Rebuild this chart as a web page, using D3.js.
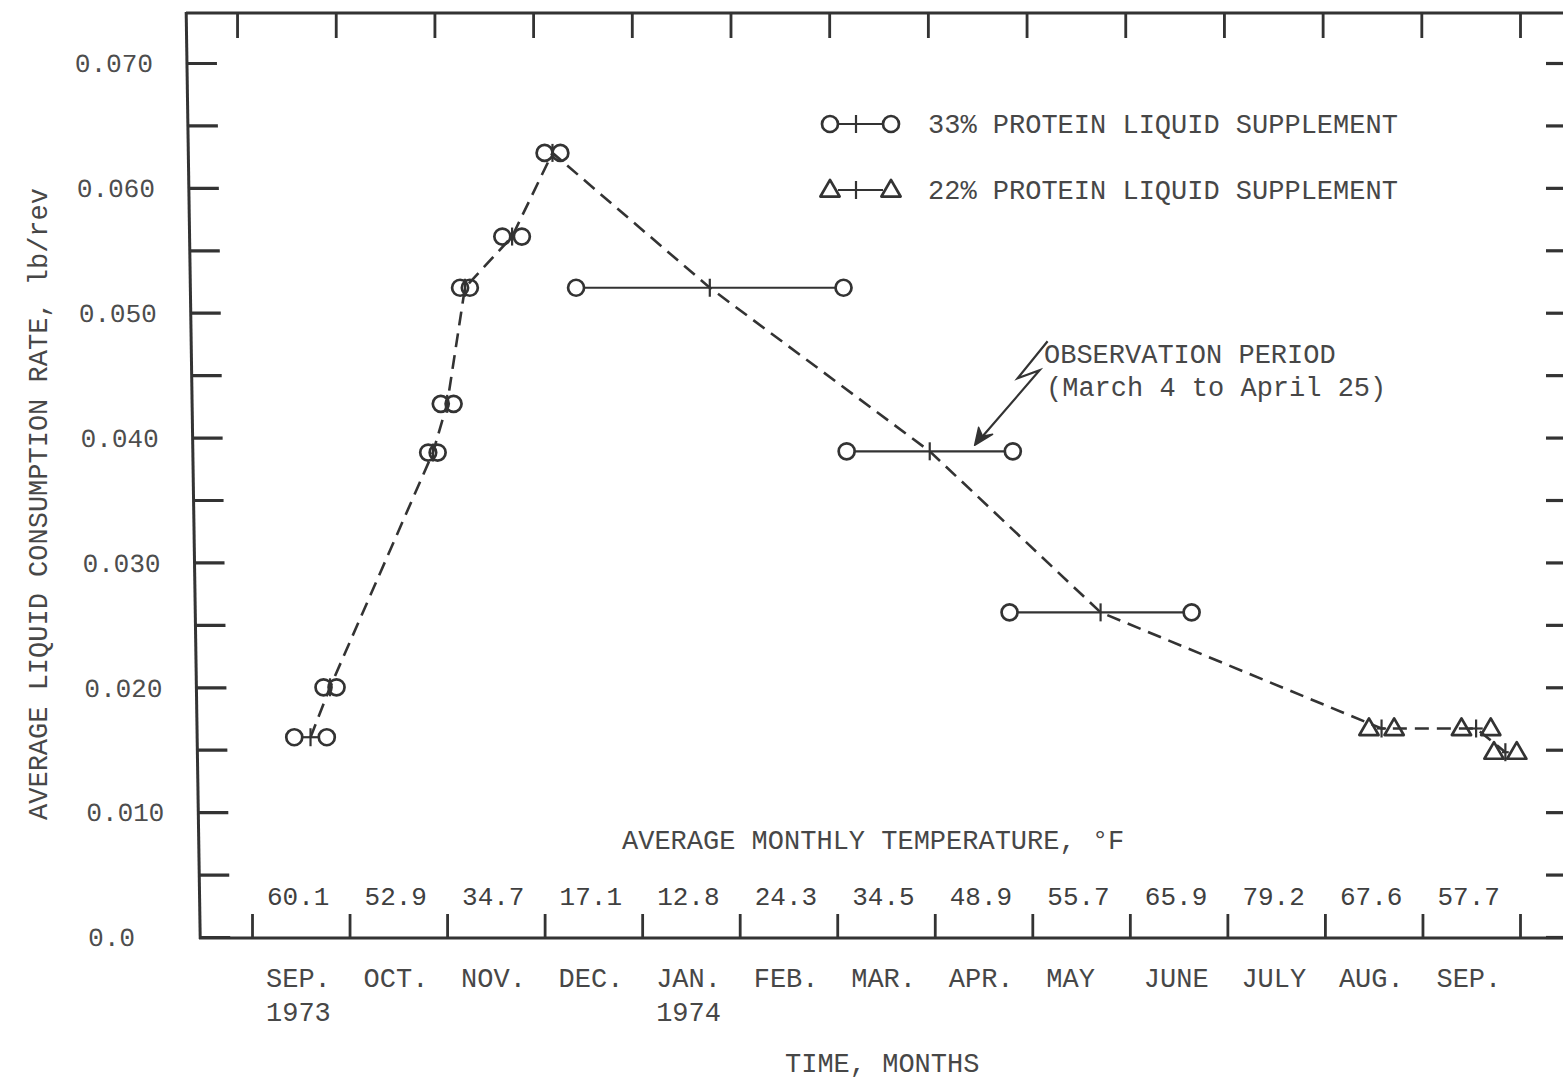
<!DOCTYPE html>
<html>
<head>
<meta charset="utf-8">
<script src="https://cdn.jsdelivr.net/npm/d3@7"></script>
<style>
  html, body { margin: 0; padding: 0; background: #fff; }
  svg { display: block; }
  text { font-family: "Liberation Mono", "DejaVu Sans Mono", monospace; fill: #474747; }
</style>
</head>
<body>
<svg id="chart" width="1563" height="1079"></svg>
<script>
// ---- data -------------------------------------------------------------
// Months along the time axis, Sep 1973 .. Sep 1974
const monthLabels = ["SEP.", "OCT.", "NOV.", "DEC.", "JAN.", "FEB.", "MAR.", "APR.", "MAY", "JUNE", "JULY", "AUG.", "SEP."];
const yearLabelMonths = [0, 4];
const yearLabels = ["1973", "1974"];
// Average monthly temperature, °F
const monthlyTemps = ["60.1", "52.9", "34.7", "17.1", "12.8", "24.3", "34.5", "48.9", "55.7", "65.9", "79.2", "67.6", "57.7"];

// Consumption-rate axis
const rateTicks = [0, 0.01, 0.02, 0.03, 0.04, 0.05, 0.06, 0.07];
const rateTickLabels = ["0.0", "0.010", "0.020", "0.030", "0.040", "0.050", "0.060", "0.070"];

// 33% protein liquid supplement: observation periods and average rate (lb/rev)
const supp33Start = ["1973-09-14", "1973-09-23", "1973-10-26", "1973-10-30", "1973-11-05", "1973-11-18", "1973-12-01", "1973-12-11", "1974-03-04", "1974-04-24"];
const supp33End   = ["1973-09-24", "1973-09-27", "1973-10-29", "1973-11-03", "1973-11-08", "1973-11-24", "1973-12-06", "1974-03-03", "1974-04-25", "1974-06-20"];
const supp33Rate  = [0.0160, 0.0200, 0.0388, 0.0427, 0.0520, 0.0561, 0.0628, 0.0520, 0.0389, 0.0260];

// 22% protein liquid supplement
const supp22Start = ["1974-08-15", "1974-09-13", "1974-09-23"];
const supp22End   = ["1974-08-23", "1974-09-22", "1974-09-30"];
const supp22Rate  = [0.0167, 0.0167, 0.0148];

// ---- setup ------------------------------------------------------------
const ink = "#333333";
const svg = d3.select("#chart");
const parse = d3.timeParse("%Y-%m-%d");

// Month index (Sep 1973 = 0) with fractional day position inside the month
function monthPos(s) {
  const d = parse(s);
  const m = (d.getFullYear() - 1973) * 12 + d.getMonth() - 8;
  const dim = new Date(d.getFullYear(), d.getMonth() + 1, 0).getDate();
  return m + (d.getDate() - 1) / dim;
}

const x = d3.scaleLinear().domain([0, 13]).range([252, 1520]);
const y = d3.scaleLinear().domain([0, 0.07]).range([937, 63]);
const monthBounds = d3.range(0, 14);
const minorTicks = d3.range(0.005, 0.07, 0.01);

// ---- frame and axes ---------------------------------------------------
const frame = svg.append("g").attr("stroke", ink).attr("stroke-width", 3).attr("fill", "none");
frame.append("line").attr("x1", 186).attr("y1", 13).attr("x2", 1570).attr("y2", 13);
frame.append("line").attr("x1", 199).attr("y1", 938).attr("x2", 1570).attr("y2", 938);

// left axis (slightly leaning frame edge)
const leftG = svg.append("g").attr("transform", "translate(186,0) skewX(0.867)");
leftG.append("line").attr("x1", 0).attr("y1", 12).attr("x2", 0).attr("y2", 939)
  .attr("stroke", ink).attr("stroke-width", 3);
const leftAxis = leftG.append("g")
  .call(d3.axisLeft(y).tickValues(rateTicks).tickSize(-30).tickSizeOuter(0)
    .tickFormat((d, i) => rateTickLabels[i]));
leftAxis.select(".domain").remove();
leftAxis.attr("font-family", null).attr("font-size", null).attr("color", ink);
leftAxis.selectAll("line").attr("stroke-width", 3.2);
leftAxis.selectAll("text")
  .attr("x", -112).attr("text-anchor", "start").attr("dy", "0.34em")
  .style("font-size", "26px").style("fill", "#4d4d4d");
const leftMinor = leftG.append("g")
  .call(d3.axisLeft(y).tickValues(minorTicks).tickSize(-30).tickSizeOuter(0).tickFormat(""));
leftMinor.select(".domain").remove();
leftMinor.attr("color", ink).selectAll("line").attr("stroke-width", 3.2);

// right axis ticks
const rightAxis = svg.append("g").attr("transform", "translate(1568,0)")
  .call(d3.axisRight(y).tickValues(rateTicks.concat(minorTicks)).tickSize(-22).tickSizeOuter(0).tickFormat(""));
rightAxis.select(".domain").remove();
rightAxis.attr("color", ink).selectAll("line").attr("stroke-width", 3.2);

// bottom month ticks
const bottomAxis = svg.append("g").attr("transform", "translate(0,938)")
  .call(d3.axisBottom(x).tickValues(monthBounds).tickSize(-24).tickSizeOuter(0).tickFormat(""));
bottomAxis.select(".domain").remove();
bottomAxis.attr("color", ink).selectAll("line").attr("stroke-width", 2.8);

// top month ticks (top edge runs a little wider than the bottom one)
const topAxis = svg.append("g").attr("transform", "translate(1520,13) scale(1.0118,1) translate(-1520,0)")
  .call(d3.axisTop(x).tickValues(monthBounds).tickSize(-25).tickSizeOuter(0).tickFormat(""));
topAxis.select(".domain").remove();
topAxis.attr("color", ink).selectAll("line").attr("stroke-width", 2.8);

// month names, years, temperatures
svg.append("g").selectAll("text").data(monthLabels).join("text")
  .attr("x", (d, i) => x(i) + 14).attr("y", 987)
  .style("font-size", "27px").text(d => d);
svg.append("g").selectAll("text").data(yearLabels).join("text")
  .attr("x", (d, i) => x(yearLabelMonths[i]) + 14).attr("y", 1021)
  .style("font-size", "27px").text(d => d);
svg.append("g").selectAll("text").data(monthlyTemps).join("text")
  .attr("x", (d, i) => x(i) + 15).attr("y", 905)
  .style("font-size", "26px").style("fill", "#404040").text(d => d);

svg.append("text").attr("x", 622).attr("y", 849).style("font-size", "27px")
  .text("AVERAGE MONTHLY TEMPERATURE, °F");
svg.append("text").attr("x", 785).attr("y", 1072).style("font-size", "27px")
  .text("TIME, MONTHS");
svg.append("text").attr("transform", "translate(47,504) rotate(-90)")
  .attr("text-anchor", "middle").style("font-size", "27px")
  .text("AVERAGE LIQUID CONSUMPTION RATE, lb/rev");

// ---- data marks -------------------------------------------------------
const r = 8;
const triSym = d3.symbol().type(d3.symbolTriangle).size(160);

function periods(starts, ends, rates, kind) {
  return rates.map((v, i) => {
    const x1 = x(monthPos(starts[i])), x2 = x(monthPos(ends[i]));
    return { x1, x2, xm: (x1 + x2) / 2, y: y(v), kind };
  });
}
const p33 = periods(supp33Start, supp33End, supp33Rate, "circle");
const p22 = periods(supp22Start, supp22End, supp22Rate, "triangle");
const allPeriods = p33.concat(p22);

// dashed trend through period midpoints
svg.append("path")
  .datum(allPeriods)
  .attr("d", d3.line().x(d => d.xm).y(d => d.y))
  .attr("fill", "none").attr("stroke", ink).attr("stroke-width", 2.6)
  .attr("stroke-dasharray", "14,8");

const marks = svg.append("g").attr("stroke", ink).attr("stroke-width", 2.7).attr("fill", "none")
  .attr("stroke-linejoin", "round");

function drawMarker(g, cx, cy, kind) {
  if (kind === "circle") {
    g.append("circle").attr("cx", cx).attr("cy", cy).attr("r", r);
  } else {
    g.append("path").attr("d", triSym).attr("transform", `translate(${cx},${cy + 1})`);
  }
}

allPeriods.forEach(p => {
  const g = marks.append("g");
  const half = p.kind === "circle" ? r : 8;
  if (p.x2 - p.x1 > 2 * half) {
    g.append("line").attr("x1", p.x1 + half).attr("x2", p.x2 - half)
      .attr("y1", p.y).attr("y2", p.y).attr("stroke-width", 2.2);
  }
  g.append("line").attr("x1", p.xm).attr("x2", p.xm)
    .attr("y1", p.y - 9).attr("y2", p.y + 9).attr("stroke-width", 2.2);
  drawMarker(g, p.x1, p.y, p.kind);
  drawMarker(g, p.x2, p.y, p.kind);
});

// ---- legend -----------------------------------------------------------
const legendRows = [
  { kind: "circle", y: 124, label: "33% PROTEIN LIQUID SUPPLEMENT" },
  { kind: "triangle", y: 190, label: "22% PROTEIN LIQUID SUPPLEMENT" }
];
legendRows.forEach(row => {
  const g = svg.append("g").attr("stroke", ink).attr("stroke-width", 2.7).attr("fill", "none")
    .attr("stroke-linejoin", "round");
  g.append("line").attr("x1", 838).attr("x2", 883).attr("y1", row.y).attr("y2", row.y).attr("stroke-width", 2.2);
  g.append("line").attr("x1", 856).attr("x2", 856).attr("y1", row.y - 9).attr("y2", row.y + 9).attr("stroke-width", 2.2);
  drawMarker(g, 830, row.y, row.kind);
  drawMarker(g, 891, row.y, row.kind);
  svg.append("text").attr("x", 928).attr("y", row.y + 9).style("font-size", "27px").text(row.label);
});

// ---- observation-period note -----------------------------------------
const obs = p33[8];
const tipX = obs.x1 + (obs.x2 - obs.x1) * 0.77, tipY = obs.y - 6;
svg.append("path")
  .attr("d", `M${tipX + 73},${tipY - 104} L${tipX + 43},${tipY - 67} L${tipX + 65},${tipY - 75} L${tipX + 2},${tipY - 2}`)
  .attr("fill", "none").attr("stroke", ink).attr("stroke-width", 2.2).attr("stroke-linejoin", "miter");
svg.append("path")
  .attr("d", `M${tipX},${tipY} L${tipX + 4},${tipY - 18} L${tipX + 8},${tipY - 9} L${tipX + 18},${tipY - 11} Z`)
  .attr("fill", ink).attr("stroke", ink).attr("stroke-width", 1.5).attr("stroke-linejoin", "round");
svg.append("text").attr("x", 1044).attr("y", 363).style("font-size", "27px").text("OBSERVATION PERIOD");
svg.append("text").attr("x", 1046).attr("y", 396).style("font-size", "27px").text("(March 4 to April 25)");
</script>
</body>
</html>
